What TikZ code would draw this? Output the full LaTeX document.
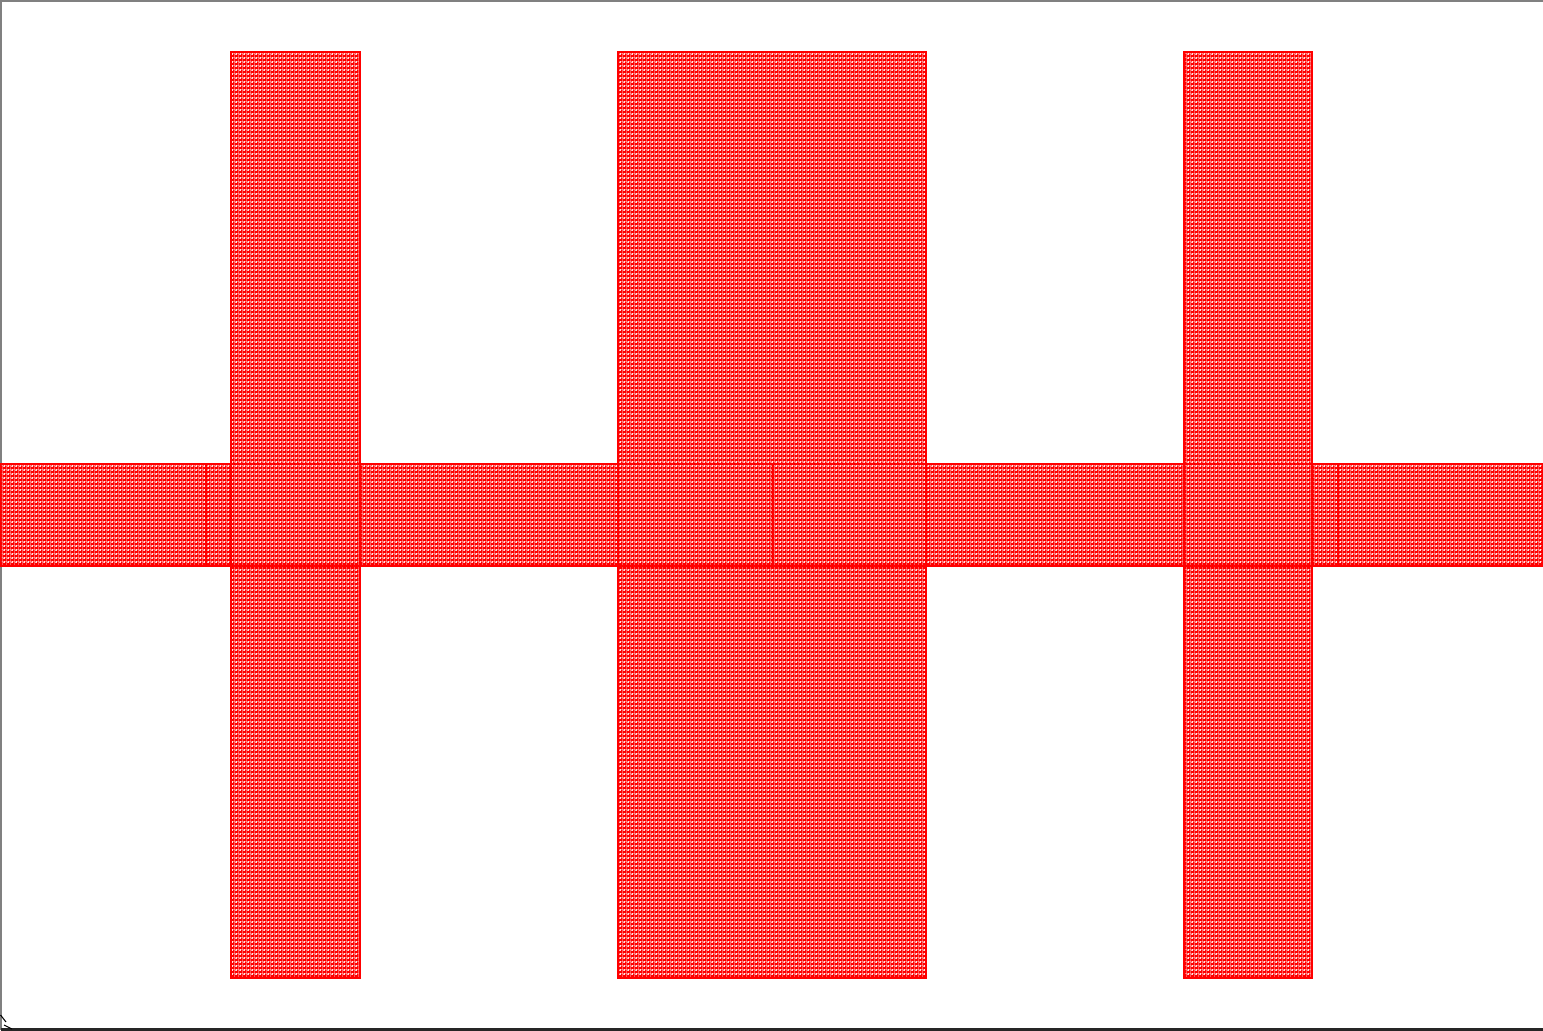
\documentclass[tikz,border=0pt]{standalone}
\usetikzlibrary{patterns.meta}

\tikzdeclarepattern{
  name=layfill, type=uncolored,
  bottom left={(0pt,0pt)}, top right={(1.2pt,1.2pt)},
  tile size={(1.2pt,1.2pt)},
  code={
    \fill (0pt,0pt) rectangle (1.2pt,0.6pt);
    \fill (0.6pt,0.6pt) rectangle (1.2pt,1.2pt);
    \fill (0pt,0.9pt) rectangle (0.3pt,1.2pt);
  }
}
\tikzset{
  polyfill/.style={pattern=layfill,pattern color=red,nonzero rule},
  polyedge/.style={draw=red,line width=0.45pt}
}

\begin{document}
\begin{tikzpicture}[x=0.01cm,y=-0.01cm]
  % frame
  \useasboundingbox (0,0) rectangle (1543,1031);
  \fill[white] (0,0) rectangle (1543,1031);
  \draw[gray,line width=0.8pt] (0.5,1030) -- (0.5,0.5) -- (1543,0.5);
  \draw[black!85,line width=0.6pt] (0.5,1029.5) -- (1543,1029.5);
  \draw[black,line width=0.3pt] (0.5,1015) -- (6,1022) (4,1025) -- (12,1029);
  % fill of all shapes at once
  \fill[polyfill] (0,464) rectangle (1543,566)
    (231,52) rectangle (360,978) (618,52) rectangle (926,978)
    (1184,52) rectangle (1312,978);
  % horizontal strip
  \foreach \xa/\xb in {0/206,206/773,773/1338,1338/1543}{
    \draw[polyedge] (\xa,464) rectangle (\xb,566);
  }
  % vertical bars
  \foreach \xa/\xb in {231/360,618/926,1184/1312}{
    \draw[polyedge] (\xa,52) rectangle (\xb,978);
  }
\end{tikzpicture}
\end{document}
